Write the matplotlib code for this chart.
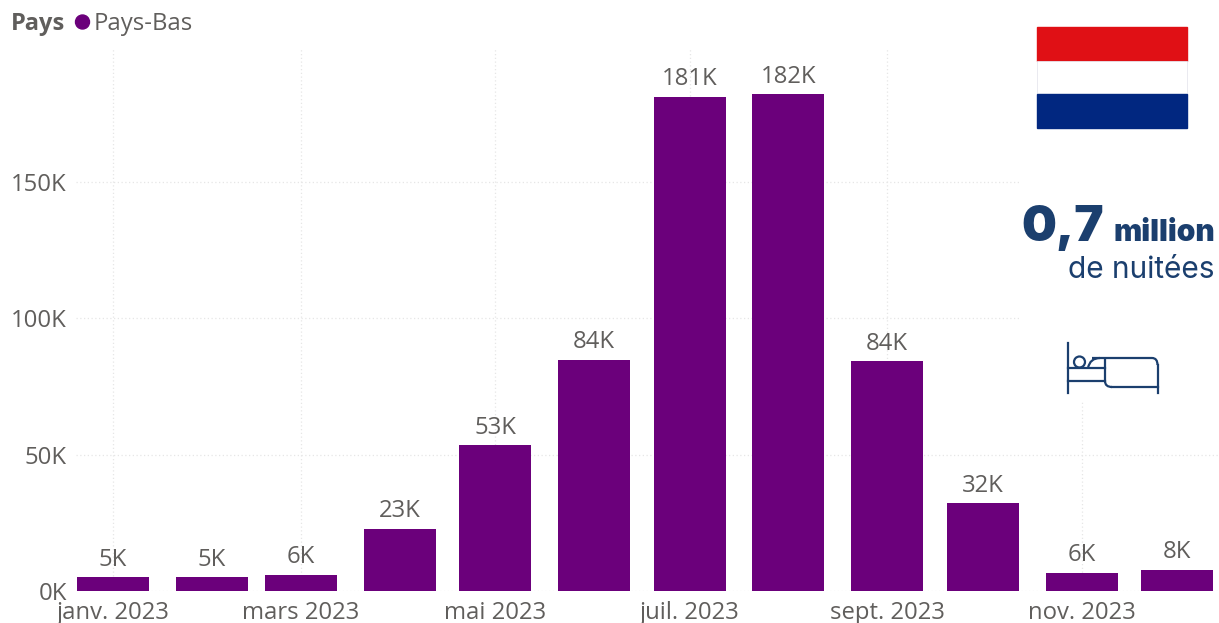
import pandas as pd
import matplotlib
matplotlib.use("Agg")
import matplotlib.pyplot as plt
import matplotlib.dates as mdates
from matplotlib.patches import Rectangle, Circle, PathPatch
from matplotlib.path import Path
from matplotlib.lines import Line2D

months = pd.date_range("2023-01-01", periods=12, freq="MS")
values = [5100, 5000, 5900, 22700, 53400, 84600, 181000, 182000, 84200, 32200, 6600, 7700]
value_labels = ["5K", "5K", "6K", "23K", "53K", "84K", "181K", "182K", "84K", "32K", "6K", "8K"]
tick_months = months[::2]
tick_labels = ["janv. 2023", "mars 2023", "mai 2023", "juil. 2023", "sept. 2023", "nov. 2023"]
y_ticks = [0, 50000, 100000, 150000]
y_labels = ["0K", "50K", "100K", "150K"]

W, H = 1219, 623
TEXT = "#605E5C"
PURPLE = "#6B007B"
NAVY = "#1B3F6E"
GRID = "#E6E6E6"
FS = 17.2

plt.rcParams["font.family"] = ["Open Sans", "DejaVu Sans"]

fig = plt.figure(figsize=(W / 100, H / 100), dpi=100)

# plot area, in pixels of the picture
left, right, top, bottom = 76, 1219, 48, 591
ax = fig.add_axes([left / W, 1 - bottom / H, (right - left) / W, (bottom - top) / H])

# one day is about 3.186 px, january sits at x=113
day = mdates.date2num(months[0])
ax.set_xlim(day - (113 - left) / 3.186, day + (right - 113) / 3.186)
ax.set_ylim(0, (bottom - top) / 136.5 * 50000)

ax.bar(mdates.date2num(months), values, width=22.6, color=PURPLE, zorder=3)
for m, v, lab in zip(mdates.date2num(months), values, value_labels):
    ax.annotate(lab, (m, v), xytext=(0, 4), textcoords="offset points",
                ha="center", va="bottom", fontsize=FS, color=TEXT, zorder=4)

ax.set_xticks(mdates.date2num(tick_months))
ax.set_xticklabels(tick_labels, fontsize=FS, color=TEXT)
ax.set_yticks(y_ticks)
ax.set_yticklabels(y_labels, fontsize=FS, color=TEXT)
ax.tick_params(length=0)
ax.tick_params(axis="x", pad=7.5)
ax.tick_params(axis="y", pad=6.5)
ax.grid(True, color=GRID, linestyle=(0, (1, 2)), linewidth=0.9, zorder=0)
ax.set_axisbelow(True)
for s in ax.spines.values():
    s.set_visible(False)

# legend row
fig.text(11 / W, 1 - 24 / H, "Pays", fontsize=17, fontweight="bold", color=TEXT, va="center")
fig.text(94 / W, 1 - 24 / H, "Pays-Bas", fontsize=FS, color=TEXT, va="center")

# overlay in pixel coordinates for the flag, key figure and bed icon
ov = fig.add_axes([0, 0, 1, 1], facecolor="none")
ov.set_xlim(0, W)
ov.set_ylim(H, 0)
ov.axis("off")
ov.add_patch(Circle((82.5, 22), 7, color=PURPLE))

ov.add_patch(Rectangle((1020, 0), 199, 400, color="white", zorder=1))
ov.add_patch(Rectangle((1037, 27), 150, 34, color="#E01015", zorder=2))
ov.add_patch(Rectangle((1037, 61), 150, 33, facecolor="white", edgecolor="#E6E6EE", lw=0.6, zorder=2))
ov.add_patch(Rectangle((1037, 94), 150, 33.5, color="#012780", zorder=2))

ov.text(1104, 241, "0,7", fontsize=35.5, fontweight="black", color=NAVY, family="Inter",
        ha="right", va="baseline", zorder=3)
ov.text(1215, 241, "million", fontsize=21.5, fontweight="black", color=NAVY, family="Inter",
        ha="right", va="baseline", zorder=3)
ov.text(1215, 278, "de nuitées", fontsize=21.5, color=NAVY, family="Inter",
        ha="right", va="baseline", zorder=3)

# bed icon
for xs, ys in [((1067.5, 1067.5), (343, 393)), ((1067.5, 1105), (368, 368)),
               ((1067.5, 1105), (381, 381)), ((1157.5, 1157.5), (365, 393)),
               ((1112, 1157.5), (387, 387))]:
    ov.add_line(Line2D(xs, ys, color=NAVY, lw=1.6, zorder=3))
outline = Path([(1105, 381), (1105, 358), (1092, 358), (1152, 358), (1157.5, 358), (1157.5, 365)],
               [Path.MOVETO, Path.LINETO, Path.MOVETO, Path.LINETO, Path.CURVE3, Path.CURVE3])
ov.add_patch(PathPatch(outline, facecolor="none", edgecolor=NAVY, lw=1.6, zorder=3))
corner = Path([(1105, 381), (1105, 387), (1112, 387)], [Path.MOVETO, Path.CURVE3, Path.CURVE3])
ov.add_patch(PathPatch(corner, facecolor="none", edgecolor=NAVY, lw=1.6, zorder=3))
pillow = Path([(1088, 368), (1090, 358), (1100, 358)], [Path.MOVETO, Path.CURVE3, Path.CURVE3])
ov.add_patch(PathPatch(pillow, facecolor="none", edgecolor=NAVY, lw=1.6, zorder=3))
ov.add_patch(Circle((1079.5, 362), 5.5, facecolor="none", edgecolor=NAVY, lw=1.6, zorder=3))

fig.savefig("out.png", dpi=100)
